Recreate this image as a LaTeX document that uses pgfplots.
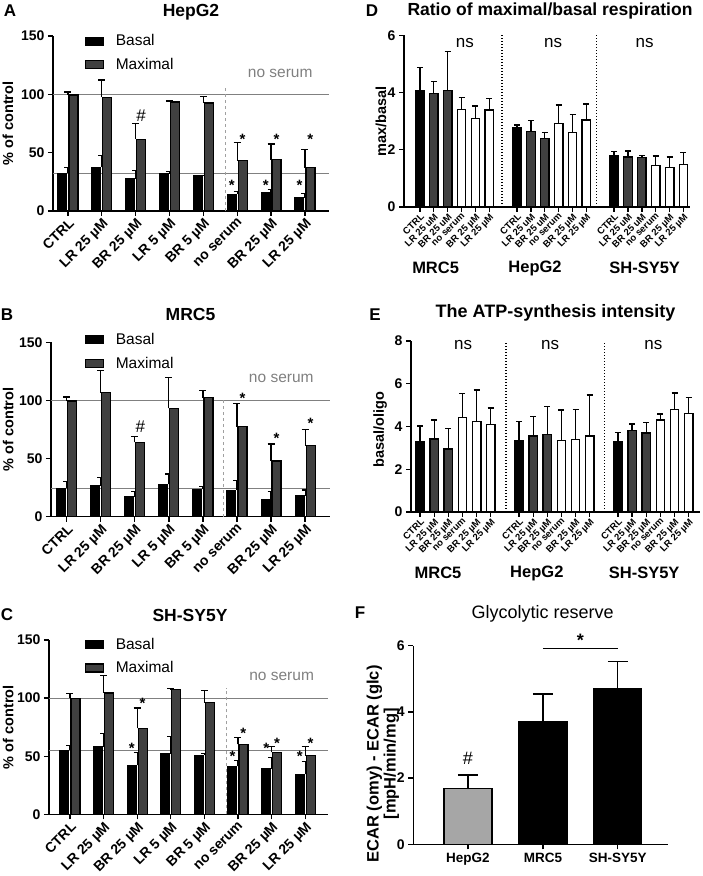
\documentclass[border=0pt]{standalone}
\usepackage{fontspec}
\setmainfont{Liberation Sans}
\usepackage{pgfplots}
\usepackage{pgfplotstable}
\pgfplotsset{compat=1.18}
\definecolor{maxgray}{HTML}{404040}
\definecolor{refgray}{HTML}{808080}
\definecolor{dashgray}{HTML}{A0A0A0}
\definecolor{lightbar}{HTML}{A6A6A6}
\newcommand{\fsz}[1]{\fontsize{#1}{#1}\selectfont}

% x b be m me
\pgfplotstableread{
x b be m me
0 32.5 4.5 99.5 2.5
1 37.7 10 97.5 14.8
2 27.6 7 61.5 13.5
3 31.8 1.8 93.5 0.8
4 30 0.5 92.5 5.5
5 14.5 2.5 43 15.5
6 15.8 2.3 43.8 13.7
7 11.5 3.4 37.2 15.4
}\dataA
\pgfplotstableread{
x b be m me
0 24.4 5.6 99.5 3.5
1 26.7 6.8 106.7 19
2 17.2 4.3 64 4.8
3 27.8 8.9 93.2 26.8
4 23.8 2 102.4 6
5 22.9 8.1 77.4 20
6 15.2 6.3 47.9 14.6
7 18 5 61 14
}\dataB
\pgfplotstableread{
x b be m me
0 55.3 3.7 100 4
1 58.2 11.5 104.4 15.2
2 42.2 10.8 74 17.5
3 52.2 14.6 107.5 0.5
4 51 1.5 96 10.5
5 41.3 5.2 60.2 6
6 39 10 53.3 4.9
7 34.4 10.9 50.5 7.7
}\dataC
% D: ratio max/basal
\pgfplotstableread{
x y e
0 4.06 0.82
7 2.77 0.10
14 1.78 0.15
}\Dctrl
\pgfplotstableread{
x y e
1 3.98 0.41
2 4.07 1.37
8 2.63 0.39
9 2.40 0.21
15 1.75 0.21
16 1.72 0.07
}\Ddark
\pgfplotstableread{
x y e
3 3.42 0.40
4 3.10 0.43
5 3.39 0.41
10 2.91 0.66
11 2.61 0.63
12 3.04 0.56
17 1.46 0.32
18 1.38 0.37
19 1.49 0.42
}\Dwhite
% E: basal/oligo
\pgfplotstableread{
x y e
0 3.29 0.73
7 3.34 0.90
14 3.31 0.42
}\Ectrl
\pgfplotstableread{
x y e
1 3.42 0.88
2 2.95 0.95
8 3.56 0.90
9 3.62 1.30
15 3.80 0.31
16 3.70 0.50
}\Edark
\pgfplotstableread{
x y e
3 4.43 1.13
4 4.24 1.47
5 4.08 0.78
10 3.34 1.43
11 3.40 1.40
12 3.56 1.92
17 4.30 0.28
18 4.78 0.79
19 4.61 0.75
}\Ewhite
% F
\pgfplotstableread{
x y e
0 1.69 0.40
}\Fhep
\pgfplotstableread{
x y e
1 3.70 0.84
2 4.71 0.81
}\Fother

\tikzset{
  astk/.style={font=\bfseries\fsz{15}},
  nsrum/.style={font=\fsz{15.5}, text=refgray},
  nslab/.style={font=\fsz{17}},
  grp/.style={font=\bfseries\fsz{16.5}},
}
\pgfplotsset{
  base/.style={
    scale only axis, clip=false, anchor=south west,
    axis lines=left, axis line style={line width=1.4pt,-},
    tick align=outside, major tick length=5pt,
    tick style={line width=1.3pt, black},
    /pgf/number format/assume math mode=true,
    yticklabel style={font=\bfseries\fsz{14}},
    ylabel style={font=\bfseries\fsz{14.5}, anchor=center},
    title style={font=\bfseries\fsz{17.5}, anchor=center},
  },
  cellpanel/.style={
    base, ymin=0, ymax=150, ytick={0,50,100,150},
    xtick={0,...,7},
    xticklabels={CTRL, LR 25 µM, BR 25 µM, LR 5 µM, BR 5 µM, no serum, BR 25 µM, LR 25 µM},
    xticklabel style={rotate=45, anchor=north east, inner sep=1pt, font=\bfseries\fsz{14}},
    ylabel={\% of control},
    legend style={anchor=north west, draw=none, fill=none, inner sep=0pt,
      font=\fsz{15.5}, row sep=7pt, cells={anchor=west}},
    legend image code/.code={\draw[##1] (0pt,-4pt) rectangle (18pt,4pt); \path[draw=none, fill=none] (0pt,0pt) -- (28pt,0pt);},
  },
  ratiopanel/.style={
    base, ymin=0,
    xtick={0,1,2,3,4,5,7,8,9,10,11,12,14,15,16,17,18,19},
    xticklabel style={rotate=45, anchor=north east, inner sep=0.5pt, font=\bfseries\fsz{9.5}},
    yticklabel style={font=\bfseries\fsz{14}},
  },
  bb/.style={ybar, bar width=9pt, bar shift=-5.5pt, fill=black, draw=black, line width=1pt,
    error bars/y dir=plus, error bars/y explicit,
    error bars/error bar style={line width=1.2pt, black},
    error bars/error mark options={rotate=90, mark size=3.5pt, line width=1.2pt, black}},
  mb/.style={ybar, bar width=9pt, bar shift=5.5pt, fill=maxgray, draw=black, line width=1.2pt,
    error bars/y dir=plus, error bars/y explicit,
    error bars/error bar style={line width=1.2pt, black},
    error bars/error mark options={rotate=90, mark size=3.5pt, line width=1.2pt, black}},
  rb/.style={ybar, bar width=8.5pt, bar shift=0pt, draw=black, line width=1.3pt,
    error bars/y dir=plus, error bars/y explicit,
    error bars/error bar style={line width=1.3pt, black},
    error bars/error mark options={rotate=90, mark size=3pt, line width=1.3pt, black}},
}

\begin{document}
\begin{tikzpicture}
\path[use as bounding box] (0pt,0pt) rectangle (702pt,876pt);

% panel letters
\node[font=\bfseries\fsz{17}] at (10pt,865pt) {A};
\node[font=\bfseries\fsz{17}] at (7pt,561pt) {B};
\node[font=\bfseries\fsz{17}] at (7pt,261pt) {C};
\node[font=\bfseries\fsz{17}] at (372pt,865pt) {D};
\node[font=\bfseries\fsz{17}] at (375pt,561pt) {E};
\node[font=\bfseries\fsz{17}] at (360pt,263pt) {F};

%================ A ================
\begin{axis}[cellpanel,
  at={(53pt,665pt)}, width=276pt, height=175pt,
  xmin=-0.44, xmax=7.71,
  title={HepG2}, title style={at={(axis description cs:0.5,1)}, yshift=18pt},
  ylabel style={at={(axis description cs:-0.163,0.5)}},
  legend style={at={(axis description cs:0.116,1.02)}},
]
\addlegendimage{fill=black, draw=black, line width=1pt}
\addlegendentry{Basal}
\addlegendimage{fill=maxgray, draw=black, line width=1.2pt}
\addlegendentry{Maximal}
\addplot[refgray, line width=0.9pt, forget plot] coordinates {(-0.44,100) (7.71,100)};
\addplot[refgray, line width=0.9pt, forget plot] coordinates {(-0.44,32.5) (7.71,32.5)};
\addplot[dashgray, dashed, line width=0.8pt, forget plot] coordinates {(4.65,0) (4.65,108)};
\addplot[bb, forget plot] table[x=x, y=b, y error=be] {\dataA};
\addplot[mb, forget plot] table[x=x, y=m, y error=me] {\dataA};
\node[nsrum] at (axis cs:6.27,118.3) {no serum};
\node[font=\fsz{17}] at (axis cs:2.16,82) {\#};
\node[astk] at (axis cs:4.84,21.7) {*};
\node[astk] at (axis cs:5.16,61) {*};
\node[astk] at (axis cs:5.84,21.7) {*};
\node[astk] at (axis cs:6.16,61) {*};
\node[astk] at (axis cs:6.84,21.7) {*};
\node[astk] at (axis cs:7.16,61) {*};
\end{axis}

%================ B ================
\begin{axis}[cellpanel,
  at={(51pt,359.3pt)}, width=279pt, height=174.4pt,
  xmin=-0.46, xmax=7.73,
  title={MRC5}, title style={at={(axis description cs:0.5,1)}, yshift=21.5pt},
  ylabel style={at={(axis description cs:-0.153,0.5)}},
  legend style={at={(axis description cs:0.122,1.065)}},
]
\addlegendimage{fill=black, draw=black, line width=1pt}
\addlegendentry{Basal}
\addlegendimage{fill=maxgray, draw=black, line width=1.2pt}
\addlegendentry{Maximal}
\addplot[refgray, line width=0.9pt, forget plot] coordinates {(-0.46,100) (7.73,100)};
\addplot[refgray, line width=0.9pt, forget plot] coordinates {(-0.46,24.4) (7.73,24.4)};
\addplot[dashgray, dashed, line width=0.8pt, forget plot] coordinates {(4.6,0) (4.6,100)};
\addplot[bb, forget plot] table[x=x, y=b, y error=be] {\dataB};
\addplot[mb, forget plot] table[x=x, y=m, y error=me] {\dataB};
\node[nsrum] at (axis cs:6.3,119) {no serum};
\node[font=\fsz{17}] at (axis cs:2.16,77.4) {\#};
\node[astk] at (axis cs:5.16,102) {*};
\node[astk] at (axis cs:6.16,67) {*};
\node[astk] at (axis cs:7.16,80.6) {*};
\end{axis}

%================ C ================
\begin{axis}[cellpanel,
  at={(49pt,61.7pt)}, width=279pt, height=174.3pt,
  xmin=-0.625, xmax=7.68,
  title={SH-SY5Y}, title style={at={(axis description cs:0.5,1)}, yshift=19pt, xshift=1.5pt},
  ylabel style={at={(axis description cs:-0.146,0.5)}},
  legend style={at={(axis description cs:0.129,1.025)}},
]
\addlegendimage{fill=black, draw=black, line width=1pt}
\addlegendentry{Basal}
\addlegendimage{fill=maxgray, draw=black, line width=1.2pt}
\addlegendentry{Maximal}
\addplot[refgray, line width=0.9pt, forget plot] coordinates {(-0.625,100) (7.68,100)};
\addplot[refgray, line width=0.9pt, forget plot] coordinates {(-0.625,55.3) (7.68,55.3)};
\addplot[dashgray, dashed, line width=0.8pt, forget plot] coordinates {(4.66,0) (4.66,109)};
\addplot[bb, forget plot] table[x=x, y=b, y error=be] {\dataC};
\addplot[mb, forget plot] table[x=x, y=m, y error=me] {\dataC};
\node[nsrum] at (axis cs:6.3,118.4) {no serum};
\node[astk] at (axis cs:1.84,57) {*};
\node[astk] at (axis cs:2.16,95.2) {*};
\node[astk] at (axis cs:4.84,49.9) {*};
\node[astk] at (axis cs:5.16,70) {*};
\node[astk] at (axis cs:5.84,56.4) {*};
\node[astk] at (axis cs:6.16,61) {*};
\node[astk] at (axis cs:6.84,49.9) {*};
\node[astk] at (axis cs:7.16,61) {*};
\end{axis}

%================ D ================
\begin{axis}[ratiopanel,
  at={(404pt,669pt)}, width=286pt, height=171.5pt,
  xmin=-1.15, xmax=19.47, ymax=6, ytick={0,2,4,6},
  xticklabels={CTRL, LR 25 uM, BR 25 uM, no serum, BR 25 µM, LR 25 µM,
               CTRL, LR 25 uM, BR 25 uM, no serum, BR 25 µM, LR 25 µM,
               CTRL, LR 25 uM, BR 25 uM, no serum, BR 25 µM, LR 25 µM},
  title={Ratio of maximal/basal respiration},
  title style={at={(axis description cs:0.5,1)}, yshift=18.5pt, xshift=3pt, font=\bfseries\fsz{17.5}},
  ylabel={max/basal},
  ylabel style={at={(axis description cs:-0.08,0.5)}},
]
\addplot[black, line width=1.2pt, dash pattern=on 1.2pt off 1.8pt] coordinates {(5.92,0) (5.92,6)};
\addplot[black, line width=1.2pt, dash pattern=on 1.2pt off 1.8pt] coordinates {(12.7,0) (12.7,6)};
\addplot[rb, fill=black] table[x=x, y=y, y error=e] {\Dctrl};
\addplot[rb, fill=maxgray] table[x=x, y=y, y error=e] {\Ddark};
\addplot[rb, fill=white] table[x=x, y=y, y error=e] {\Dwhite};
\node[nslab] at (axis cs:3.24,5.73) {ns};
\node[nslab] at (axis cs:9.6,5.73) {ns};
\node[nslab] at (axis cs:16.2,5.73) {ns};
\node[grp, yshift=-61pt] at (axis cs:1.13,0) {MRC5};
\node[grp, yshift=-61pt] at (axis cs:8.3,0) {HepG2};
\node[grp, yshift=-61pt] at (axis cs:16.2,0) {SH-SY5Y};
\end{axis}

%================ E ================
\begin{axis}[ratiopanel,
  at={(411pt,364pt)}, width=289pt, height=171pt,
  xmin=-0.64, xmax=19.8, ymax=8, ytick={0,2,4,6,8},
  xticklabels={CTRL, LR 25 µM, BR 25 µM, no serum, BR 25 µM, LR 25 µM,
               CTRL, LR 25 µM, BR 25 µM, no serum, BR 25 µM, LR 25 µM,
               CTRL, LR 25 µM, BR 25 µM, no serum, BR 25 µM, LR 25 µM},
  title={The ATP-synthesis intensity},
  title style={at={(axis description cs:0.5,1)}, yshift=21.7pt, font=\bfseries\fsz{18}},
  ylabel={basal/oligo},
  ylabel style={at={(axis description cs:-0.107,0.48)}},
]
\addplot[black, line width=1.2pt, dash pattern=on 1.2pt off 1.8pt] coordinates {(6.08,0) (6.08,8)};
\addplot[black, line width=1.2pt, dash pattern=on 1.2pt off 1.8pt] coordinates {(13.03,0) (13.03,8)};
\addplot[rb, fill=black] table[x=x, y=y, y error=e] {\Ectrl};
\addplot[rb, fill=maxgray] table[x=x, y=y, y error=e] {\Edark};
\addplot[rb, fill=white] table[x=x, y=y, y error=e] {\Ewhite};
\node[nslab] at (axis cs:3.05,7.8) {ns};
\node[nslab] at (axis cs:9.2,7.8) {ns};
\node[nslab] at (axis cs:16.5,7.8) {ns};
\node[grp, yshift=-61.3pt] at (axis cs:1.27,0) {MRC5};
\node[grp, yshift=-61.3pt] at (axis cs:8.26,0) {HepG2};
\node[grp, yshift=-61.3pt] at (axis cs:15.85,0) {SH-SY5Y};
\end{axis}

%================ F ================
\begin{axis}[base,
  at={(413.3pt,31.7pt)}, width=254.7pt, height=198.6pt,
  xmin=-0.73, xmax=2.67, ymin=0, ymax=6, ytick={0,2,4,6},
  xtick={0,1,2}, xticklabels={HepG2, MRC5, SH-SY5Y},
  xticklabel style={font=\bfseries\fsz{13.5}},
  yticklabel style={font=\bfseries\fsz{14}},
  title={Glycolytic reserve},
  title style={at={(axis description cs:0.5,1)}, yshift=25.7pt, xshift=2pt, font=\fsz{18}},
  ylabel={ECAR (omy) - ECAR (glc)\\{[}mpH/min/mg{]}},
  ylabel style={at={(axis description cs:-0.119,0.405)}, align=center, font=\bfseries\fontsize{16.5}{17}\selectfont},
]
\addplot[ybar, bar width=48pt, bar shift=0pt, fill=lightbar, draw=black, line width=1.3pt,
    error bars/y dir=plus, error bars/y explicit,
    error bars/error bar style={line width=1.3pt, black},
    error bars/error mark options={rotate=90, mark size=10pt, line width=1.3pt, black}]
  table[x=x, y=y, y error=e] {\Fhep};
\addplot[ybar, bar width=48pt, bar shift=0pt, fill=black, draw=black, line width=1.3pt,
    error bars/y dir=plus, error bars/y explicit,
    error bars/error bar style={line width=1.3pt, black},
    error bars/error mark options={rotate=90, mark size=10pt, line width=1.3pt, black}]
  table[x=x, y=y, y error=e] {\Fother};
\addplot[black, line width=1.3pt] coordinates {(1,5.92) (2,5.92)};
\node[font=\bfseries\fsz{18}] at (axis cs:1.5,6.17) {*};
\node[font=\fsz{18}] at (axis cs:0,2.6) {\#};
\end{axis}
\end{tikzpicture}
\end{document}
